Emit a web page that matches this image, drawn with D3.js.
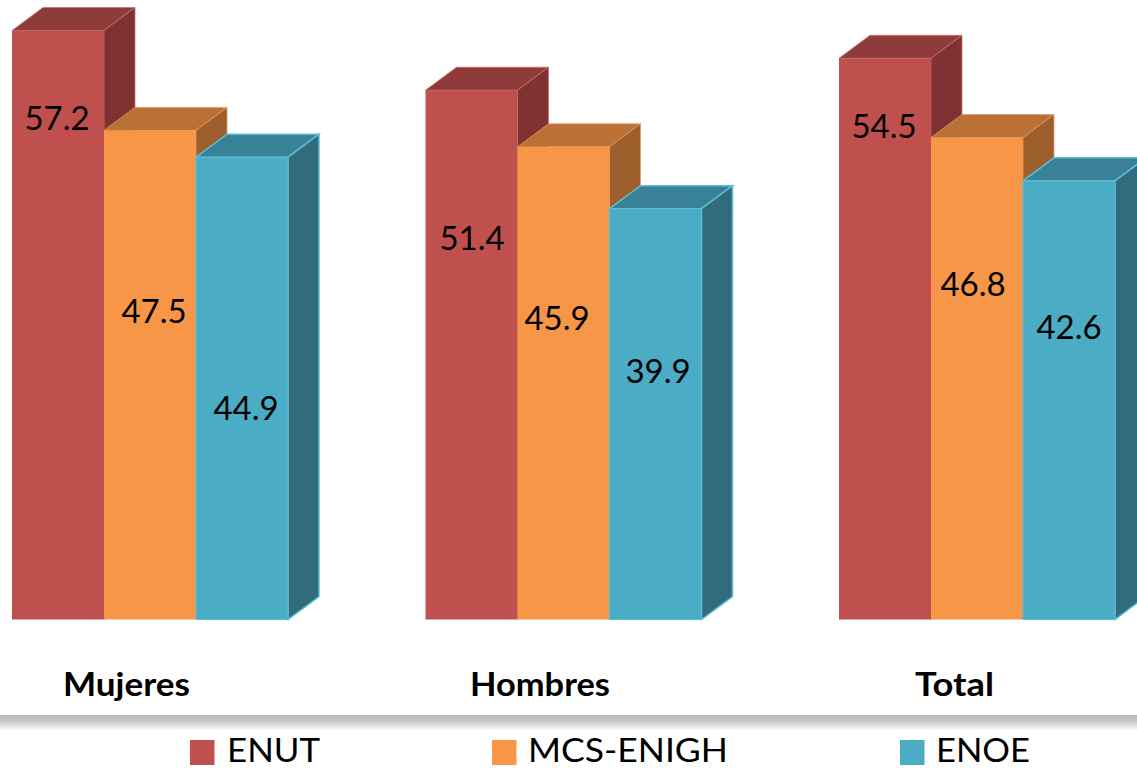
<!DOCTYPE html>
<html><head><meta charset="utf-8">
<script src="https://cdn.jsdelivr.net/npm/d3@7"></script>
<style>html,body{margin:0;padding:0;background:#fff;overflow:hidden}svg{display:block}text{font-family:Lato,"Open Sans",sans-serif;fill:#000}</style>
</head><body><div id="chart"></div>
<script>
const categories = ["Mujeres","Hombres","Total"];
const seriesNames = ["ENUT","MCS-ENIGH","ENOE"];
const ENUT = [57.2,51.4,54.5];
const MCS_ENIGH = [47.5,45.9,46.8];
const ENOE = [44.9,39.9,42.6];
const seriesValues = [ENUT,MCS_ENIGH,ENOE];
const frontColors = ["#C0504D","#F79646","#4BACC6"];
const topColors = ["#8E3B39","#BB7134","#388197"];
const sideColors = ["#7F3231","#9D5F2B","#316C7D"];
const edgeColors = ["#c9716e","#dc9a66","#5fbcd6"];
// hand-placed data-label anchors in the original, per series then category
const labelCenterX = [[57,472,884],[154,557,973],[246,658,1069]];
const labelCenterY = [[118,238,126],[311,318,284],[408,371,327]];
const W=1137,H=768,DX=31,DY=23;
const svg=d3.select("#chart").append("svg").attr("width",W).attr("height",H);
const y=d3.scaleLinear().domain([0,57.2]).range([619.5,30.5]);
const x0=d3.scaleBand().domain(categories).range([12,1115]).paddingInner(0.3325).paddingOuter(0);
const x1=d3.scaleBand().domain(seriesNames).range([0,x0.bandwidth()]);

const defs=svg.append("defs");
const grad=defs.append("linearGradient").attr("id","shadow").attr("x1",0).attr("y1",0).attr("x2",0).attr("y2",1);
grad.append("stop").attr("offset","0%").attr("stop-color","#b9b9b9");
grad.append("stop").attr("offset","35%").attr("stop-color","#c4c4c4");
grad.append("stop").attr("offset","100%").attr("stop-color","#ffffff");

const bars=[];
categories.forEach((c,ci)=>seriesNames.forEach((s,si)=>bars.push({c,ci,s,si,v:seriesValues[si][ci]})));
const poly=pts=>pts.map(p=>p.join(",")).join(" ");
const g=svg.append("g").selectAll("g").data(bars).join("g");
g.each(function(d){
  const sel=d3.select(this);
  const l=x0(d.c)+x1(d.s),r=l+x1.bandwidth(),t=y(d.v),b=y(0);
  const stroke=edgeColors[d.si], sw=d.si===2?1.5:0.8;
  sel.append("polygon").attr("points",poly([[l,t],[l+DX,t-DY],[r+DX,t-DY],[r,t]]))
    .attr("fill",topColors[d.si]).attr("stroke",stroke).attr("stroke-width",sw);
  sel.append("polygon").attr("points",poly([[r,t],[r+DX,t-DY],[r+DX,b-DY],[r,b]]))
    .attr("fill",sideColors[d.si]).attr("stroke",stroke).attr("stroke-width",sw);
  const front=sel.append("rect").attr("x",l).attr("y",t).attr("width",r-l).attr("height",b-t)
    .attr("fill",frontColors[d.si]);
  if(d.si===2) front.attr("stroke",stroke).attr("stroke-width",1);
});
svg.append("g").selectAll("text").data(bars).join("text")
  .attr("x",d=>labelCenterX[d.si][d.ci]).attr("y",d=>labelCenterY[d.si][d.ci]+11.5)
  .attr("text-anchor","middle").attr("font-size",33).text(d=>d.v.toFixed(1));
const catLayout=[{x:63,w:127},{x:470,w:140},{x:915,w:79}];
svg.append("g").selectAll("text").data(categories).join("text")
  .attr("x",(d,i)=>catLayout[i].x).attr("y",696)
  .attr("font-size",33).attr("font-weight",700)
  .attr("textLength",(d,i)=>catLayout[i].w).attr("lengthAdjust","spacingAndGlyphs").text(d=>d);
svg.append("rect").attr("x",0).attr("y",715).attr("width",W).attr("height",16).attr("fill","url(#shadow)");
const lg=[{x:190,tx:227,tw:93},{x:492,tx:528,tw:200},{x:900,tx:936,tw:94}];
const leg=svg.append("g").selectAll("g").data(seriesNames).join("g");
leg.append("rect").attr("x",(d,i)=>lg[i].x).attr("y",740).attr("width",24.5).attr("height",25).attr("fill",(d,i)=>frontColors[i]);
leg.append("text").attr("x",(d,i)=>lg[i].tx).attr("y",761.5).attr("font-size",33.5)
  .attr("textLength",(d,i)=>lg[i].tw).attr("lengthAdjust","spacingAndGlyphs").text(d=>d);
</script></body></html>
